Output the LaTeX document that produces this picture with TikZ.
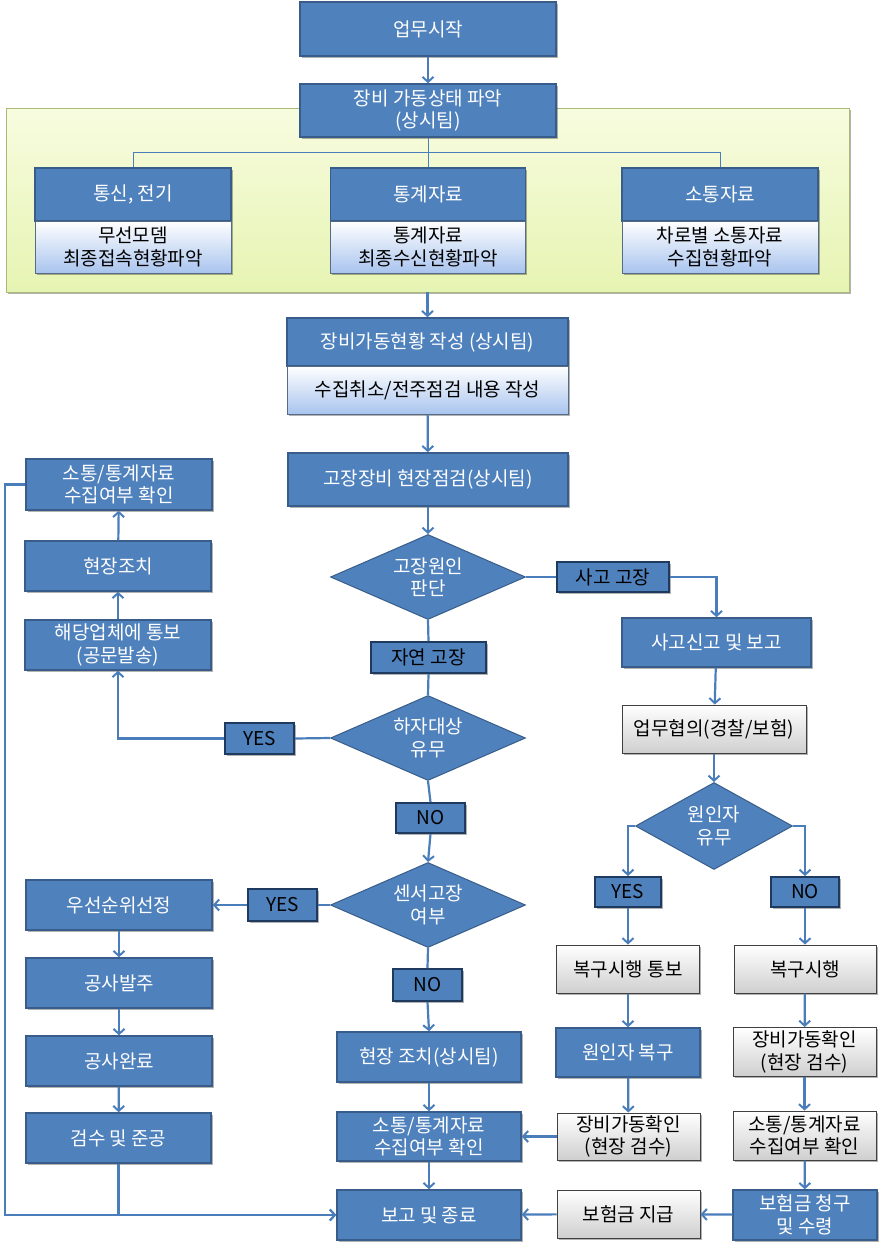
\documentclass[tikz,border=0pt]{standalone}
\usepackage{fontspec}
\setmainfont{Noto Sans CJK KR}
\usetikzlibrary{shapes.geometric,arrows.meta,shadows}
\definecolor{bfill}{HTML}{4F81BD}
\definecolor{bdraw}{HTML}{385D8A}
\definecolor{ldraw}{HTML}{1F3A5F}
\definecolor{conn}{HTML}{4A7EBB}
\definecolor{lblue}{HTML}{A9C4EE}
\definecolor{gbot}{HTML}{CFCFCF}
\definecolor{gtop}{HTML}{F8FCE0}
\definecolor{gbottom}{HTML}{E6F4B2}
\definecolor{gedge}{HTML}{A9B97A}
\begin{document}
\begin{tikzpicture}[x=1pt,y=-1pt,
  font=\fontsize{19}{22.5}\selectfont,
  sz/.style 2 args={minimum width=#1,minimum height=#2},
  shd/.style={drop shadow={shadow xshift=1.5pt,shadow yshift=-1.5pt,opacity=.3,fill=black}},
  bluebox/.style={draw=bdraw,line width=1.5pt,fill=bfill,text=white,align=center,inner sep=0pt,shd},
  lightbox/.style={draw=bdraw!60!gray,line width=1pt,top color=white,bottom color=lblue,text=black,align=center,inner sep=0pt,shd},
  graybox/.style={draw=black!75,line width=1pt,top color=white,bottom color=gbot,text=black,align=center,inner sep=0pt,shd},
  lbl/.style={draw=ldraw,line width=2pt,fill=bfill,text=black,align=center,inner sep=0pt,shd},
  dia/.style={diamond,aspect=2.3,fill=bfill,draw=bdraw,line width=1pt,text=white,align=center,inner sep=0pt,minimum width=195,minimum height=85},
  arr/.style={draw=conn,line width=2.2pt,-{Straight Barb[length=5pt,width=11pt,line width=2pt]}},
  ln/.style={draw=conn,line width=2.2pt},
  thinln/.style={draw=conn,line width=0.9pt}]
\useasboundingbox (0,0) rectangle (879,1248);
% background band
\node[draw=gedge,line width=0.8pt,top color=gtop,bottom color=gbottom,sz={843}{184},inner sep=0pt,shd] (bg) at (427.5,200) {};
\node[bluebox,sz={256}{54}] (start) at (428,29) {업무시작};
\node[bluebox,sz={256}{53}] (grasp) at (428,110.5) {장비 가동상태 파악\\(상시팀)};
\coordinate (split) at (428,152);
\node[bluebox,sz={196}{53}] (h1h) at (133,194.5) {통신, 전기};
\node[lightbox,sz={196}{52}] (h1b) at (133,247) {무선모뎀\\최종접속현황파악};
\node[bluebox,sz={195}{53}] (h2h) at (428,194.5) {통계자료};
\node[lightbox,sz={195}{52}] (h2b) at (428,247) {통계자료\\최종수신현황파악};
\node[bluebox,sz={196}{53}] (h3h) at (720,194.5) {소통자료};
\node[lightbox,sz={196}{52}] (h3b) at (720,247) {차로별 소통자료\\수집현황파악};
\node[bluebox,sz={281}{48}] (wh) at (427.5,342) {장비가동현황 작성 (상시팀)};
\node[lightbox,sz={281}{48}] (wb) at (427.5,390) {수집취소/전주점검 내용 작성};
\node[bluebox,sz={280}{53}] (insp) at (428,479.5) {고장장비 현장점검(상시팀)};
\node[dia] (d1) at (428,577) {고장원인\\판단};
\node[lbl,sz={112}{30}] (acc) at (613,577) {사고 고장};
\node[bluebox,sz={189}{49}] (report) at (716.5,642.5) {사고신고 및 보고};
\node[graybox,sz={184}{48}] (consult) at (714,729) {업무협의(경찰/보험)};
\node[dia,minimum width=157,minimum height=87] (d3) at (714,826) {원인자\\유무};
\node[lbl,sz={66}{30}] (yes3) at (628,892) {YES};
\node[lbl,sz={68}{30}] (no3) at (805,892) {NO};
\node[graybox,sz={143}{48}] (notify) at (628,969) {복구시행 통보};
\node[graybox,sz={142}{48}] (restore) at (805,969) {복구시행};
\node[bluebox,sz={144}{49}] (culprit) at (628,1052.5) {원인자 복구};
\node[graybox,sz={143}{49}] (check2) at (804.5,1052) {장비가동확인\\(현장 검수)};
\node[graybox,sz={143}{47}] (check1) at (628.5,1136.5) {장비가동확인\\(현장 검수)};
\node[graybox,sz={143}{49}] (data2) at (804.5,1135.5) {소통/통계자료\\수집여부 확인};
\node[bluebox,sz={144}{50}] (claim) at (805,1215) {보험금 청구\\및 수령};
\node[graybox,sz={143}{48}] (pay) at (628.5,1214) {보험금 지급};
\node[bluebox,sz={184}{50}] (end) at (429,1215) {보고 및 종료};
\node[bluebox,sz={184}{50}] (field) at (429,1057) {현장 조치(상시팀)};
\node[bluebox,sz={184}{49}] (data1) at (429,1136.5) {소통/통계자료\\수집여부 확인};
\node[lbl,sz={115}{31}] (nat) at (428.5,657.5) {자연 고장};
\node[dia] (ddef) at (428,738) {하자대상\\유무};
\node[lbl,sz={69}{31}] (yes1) at (259.5,738.5) {YES};
\node[lbl,sz={69}{30}] (no1) at (430.5,818) {NO};
\node[dia] (d2) at (428,905) {센서고장\\여부};
\node[lbl,sz={69}{32}] (yes2) at (282.5,905) {YES};
\node[lbl,sz={69}{32}] (no2) at (427.5,985) {NO};
\node[bluebox,sz={186}{50}] (notifyco) at (118,645) {해당업체에 통보\\(공문발송)};
\node[bluebox,sz={186}{50}] (fieldact) at (118,566) {현장조치};
\node[bluebox,sz={186}{51}] (data0) at (119,484.5) {소통/통계자료\\수집여부 확인};
\node[bluebox,sz={186}{50}] (priority) at (119,905) {우선순위선정};
\node[bluebox,sz={186}{50}] (order) at (119,983) {공사발주};
\node[bluebox,sz={186}{50}] (complete) at (119,1061) {공사완료};
\node[bluebox,sz={185}{50}] (accept) at (118.5,1138) {검수 및 준공};
\coordinate (lx) at (5,484.5);
% connectors
\draw[arr] (start) -- (grasp);
\draw[thinln] (grasp) -- (split);
\draw[thinln] (split) -| (h1h.north);
\draw[thinln] (split) -| (h3h.north);
\draw[thinln] (split) -- (h2h.north);
\draw[arr] (bg) -- (wh);
\draw[arr] (wb) -- (insp);
\draw[arr] (insp) -- (d1);
\draw[ln] (d1.east) -- (acc.west);
\draw[arr] (acc.east) -| (report.north);
\draw[arr] (report) -- (consult);
\draw[arr] (consult) -- (d3);
\draw[arr] (d3.west) -| (yes3.north);
\draw[arr] (d3.east) -| (no3.north);
\draw[arr] (yes3) -- (notify);
\draw[arr] (no3) -- (restore);
\draw[arr] (notify) -- (culprit);
\draw[arr] (culprit) -- (check1);
\draw[arr] (check1) -- (data1);
\draw[arr] (restore) -- (check2);
\draw[arr] (check2) -- (data2);
\draw[arr] (data2) -- (claim);
\draw[arr] (claim) -- (pay);
\draw[arr] (pay) -- (end);
\draw[ln] (d1.south) -- (nat.north);
\draw[ln] (nat.south) -- (ddef.north);
\draw[ln] (ddef.west) -- (yes1.east);
\draw[arr] (yes1.west) -| (notifyco.south);
\draw[arr] (notifyco) -- (fieldact);
\draw[arr] (fieldact) -- (data0);
\draw[ln] (ddef.south) -- (no1.north);
\draw[arr] (no1.south) -- (d2.north);
\draw[ln] (d2.west) -- (yes2.east);
\draw[arr] (yes2.west) -- (priority.east);
\draw[arr] (priority) -- (order);
\draw[arr] (order) -- (complete);
\draw[arr] (complete) -- (accept);
\draw[ln] (d2.south) -- (no2.north);
\draw[arr] (no2.south) -- (field.north);
\draw[arr] (field) -- (data1);
\draw[arr] (data1) -- (end);
\draw[arr] (data0.west) -- (lx) |- (end.west);
\draw[arr] (accept.south) |- (end.west);
\end{tikzpicture}
\end{document}
